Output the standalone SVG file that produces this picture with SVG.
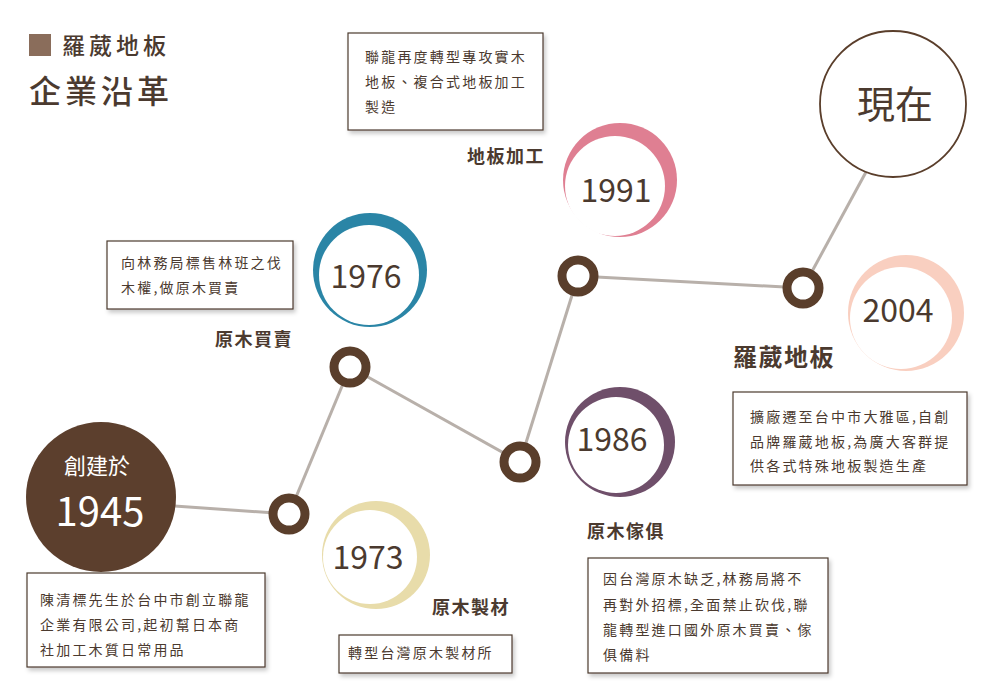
<svg xmlns="http://www.w3.org/2000/svg" width="1000" height="700" viewBox="0 0 1000 700">
<defs>
<filter id="sh" x="-10%" y="-10%" width="130%" height="140%">
<feDropShadow dx="2" dy="3" stdDeviation="2" flood-color="#000" flood-opacity="0.22"/>
</filter>
<style>
text{font-family:"Noto Sans CJK TC","Noto Sans CJK SC",sans-serif;fill:#4b3a2f}
.box{fill:#fff;stroke:#4b3a2f;stroke-width:1.2;filter:url(#sh)}
.bt{font-size:14px;letter-spacing:2.2px}
.lbl{font-size:18px;font-weight:bold;letter-spacing:1.5px}
.yr{font-size:32px;font-weight:400;text-anchor:middle}
.ring{fill:#fff;stroke:#5a3e2b;stroke-width:9}
.conn line{stroke:#b8b0aa;stroke-width:3}
.wt{fill:#fff;text-anchor:middle}
</style>
</defs>
<rect width="1000" height="700" fill="#fff"/>
<g id="header">
<rect x="29" y="34" width="22" height="22" fill="#8a6d5b"/>
<text x="62" y="54" font-size="23" font-weight="500" letter-spacing="4">羅葳地板</text>
<text x="29" y="103" font-size="32" font-weight="500" letter-spacing="4">企業沿革</text>
</g>
<g class="conn" id="connectors">
<line x1="160" y1="505" x2="289" y2="514"/>
<line x1="289" y1="514" x2="350" y2="367"/>
<line x1="350" y1="367" x2="520" y2="462"/>
<line x1="520" y1="462" x2="578" y2="276"/>
<line x1="578" y1="276" x2="803" y2="288"/>
<line x1="803" y1="288" x2="866" y2="172"/>
</g>
<g id="n1945">
<circle cx="101" cy="497" r="75" fill="#5c3f2d"/>
<text class="wt" x="97" y="474" font-size="22">創建於</text>
<text class="wt" x="100" y="526" font-size="40">1945</text>
<rect class="box" x="27" y="573" width="238" height="94"/>
<text class="bt" x="40" y="605">陳清標先生於台中市創立聯龍</text>
<text class="bt" x="40" y="630">企業有限公司,起初幫日本商</text>
<text class="bt" x="40" y="655">社加工木質日常用品</text>
</g>
<g id="ring1"><circle class="ring" cx="289" cy="514" r="16"/></g>
<g id="ring2"><circle class="ring" cx="350" cy="367" r="16"/></g>
<g id="ring3"><circle class="ring" cx="520" cy="462" r="16"/></g>
<g id="ring4"><circle class="ring" cx="578" cy="276" r="16"/></g>
<g id="ring5"><circle class="ring" cx="803" cy="288" r="16"/></g>
<g id="n1973">
<circle cx="376" cy="555" r="54" fill="#e8dcaa"/>
<circle cx="370" cy="557" r="47" fill="#fff"/>
<text class="yr" x="368" y="569">1973</text>
<text class="lbl" x="432" y="614">原木製材</text>
<rect class="box" x="339" y="635" width="173" height="38"/>
<text class="bt" x="348" y="658">轉型台灣原木製材所</text>
</g>
<g id="n1976">
<circle cx="370" cy="270" r="57" fill="#2a85a6"/>
<circle cx="369" cy="275" r="50" fill="#fff"/>
<text class="yr" x="366" y="288">1976</text>
<text class="lbl" x="293" y="346" text-anchor="end">原木買賣</text>
<rect class="box" x="107" y="241" width="186" height="68"/>
<text class="bt" x="121" y="268">向林務局標售林班之伐</text>
<text class="bt" x="121" y="293">木權,做原木買賣</text>
</g>
<g id="n1986">
<circle cx="620" cy="442" r="55" fill="#6f4f6a"/>
<circle cx="616" cy="445" r="48" fill="#fff"/>
<text class="yr" x="612" y="451">1986</text>
<text class="lbl" x="587" y="538">原木傢俱</text>
<rect class="box" x="588" y="558" width="240" height="115"/>
<text class="bt" x="603" y="584">因台灣原木缺乏,林務局將不</text>
<text class="bt" x="603" y="610">再對外招標,全面禁止砍伐,聯</text>
<text class="bt" x="603" y="635">龍轉型進口國外原木買賣、傢</text>
<text class="bt" x="603" y="660">俱備料</text>
</g>
<g id="n1991">
<circle cx="620" cy="180" r="57" fill="#df7f92"/>
<circle cx="615" cy="186" r="50" fill="#fff"/>
<text class="yr" x="616" y="202">1991</text>
<text class="lbl" x="545" y="163" text-anchor="end">地板加工</text>
<rect class="box" x="348" y="33" width="195" height="97"/>
<text class="bt" x="365" y="62">聯龍再度轉型專攻實木</text>
<text class="bt" x="365" y="87">地板、複合式地板加工</text>
<text class="bt" x="365" y="112">製造</text>
</g>
<g id="n2004">
<circle cx="906" cy="313" r="58" fill="#f9cfc0"/>
<circle cx="901" cy="318" r="51" fill="#fff"/>
<text class="yr" x="898" y="322">2004</text>
<text x="733" y="366" font-size="24" font-weight="bold" letter-spacing="1.5">羅葳地板</text>
<rect class="box" x="733" y="392" width="234" height="93"/>
<text class="bt" x="750" y="422">擴廠遷至台中市大雅區,自創</text>
<text class="bt" x="750" y="447">品牌羅葳地板,為廣大客群提</text>
<text class="bt" x="750" y="471">供各式特殊地板製造生產</text>
</g>
<g id="now">
<circle cx="893" cy="104" r="73" fill="#fff" stroke="#5a3e2b" stroke-width="1.8"/>
<text x="895" y="118" font-size="38" text-anchor="middle">現在</text>
</g>
</svg>
